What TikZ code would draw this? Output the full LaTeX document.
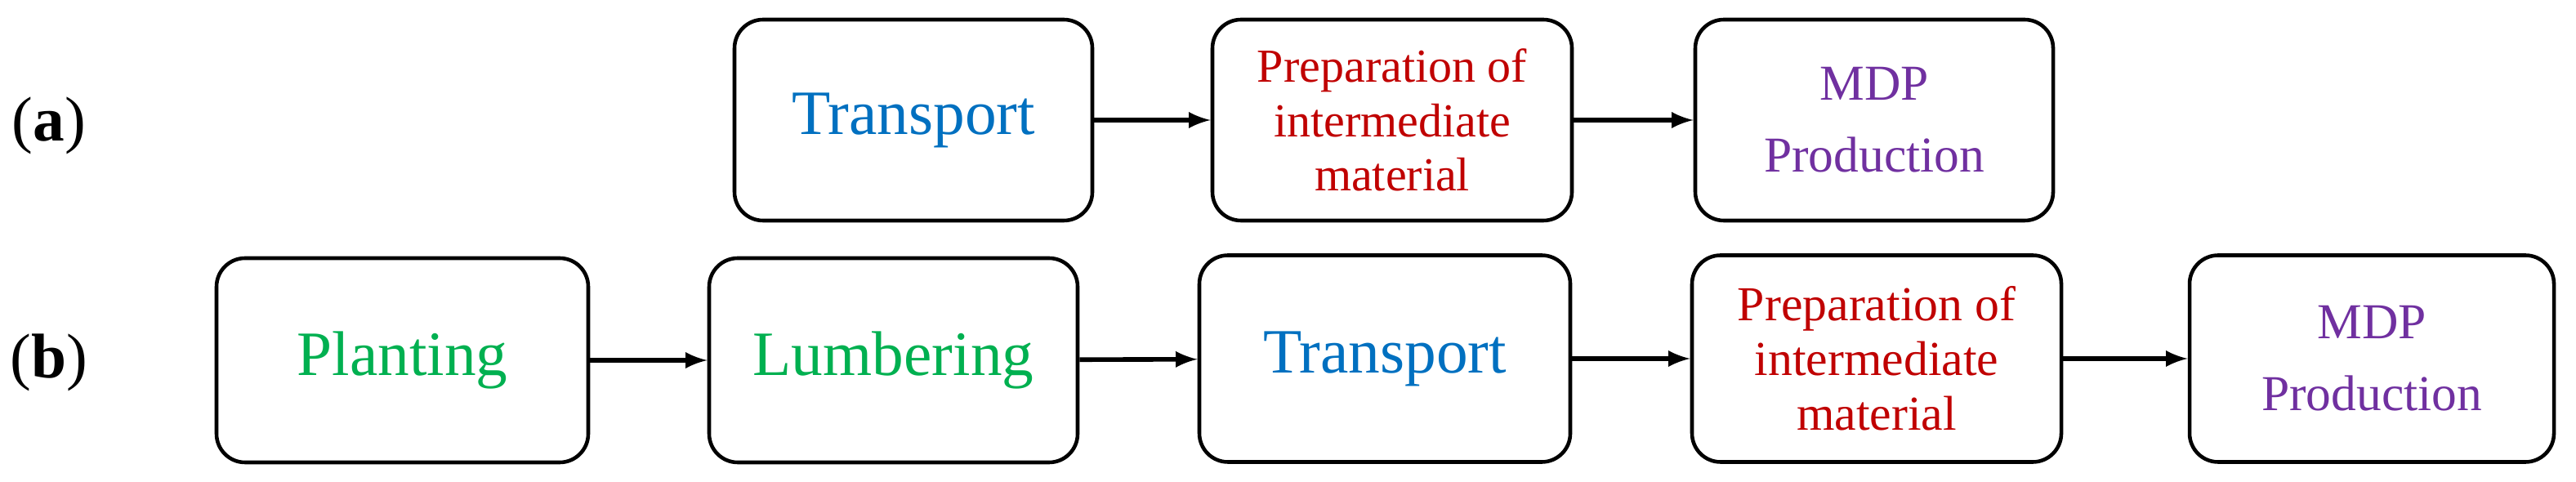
\documentclass[tikz,border=0pt]{standalone}
\usepackage{fontspec}
\setmainfont{Liberation Serif}
\usetikzlibrary{arrows,positioning}
\definecolor{tblue}{RGB}{0,112,192}
\definecolor{tred}{RGB}{192,0,0}
\definecolor{tgreen}{RGB}{0,176,80}
\definecolor{tpurple}{RGB}{112,48,160}
\begin{document}
\begin{tikzpicture}
\tikzstyle{stage}=[draw=black,line width=1.3pt,rounded corners=0.35cm,align=center,inner sep=0pt]
\tikzstyle{arrow}=[line width=1.6pt,->,>=latex]
\useasboundingbox (0,0) rectangle (31.53,5.89);
% row (a)
\node at (0.6,4.35) (la) {\fontsize{22}{26}\selectfont(\textbf{a})};
\node [stage,minimum width=4.38cm,minimum height=2.46cm,text=tblue,font=\fontsize{22}{26}\selectfont] at (11.18,4.42) (a1) {Transport};
\node [stage,minimum width=4.40cm,minimum height=2.46cm,text=tred,font=\fontsize{16.5}{19}\selectfont] at (17.04,4.42) (a2) {Preparation of\\intermediate\\material};
\node [stage,minimum width=4.38cm,minimum height=2.46cm,text=tpurple,font=\fontsize{17.5}{25}\selectfont] at (22.94,4.42) (a3) {MDP\\Production};
\draw [arrow] (a1) -- (a2);
\draw [arrow] (a2) -- (a3);
% row (b)
\node at (0.6,1.45) (lb) {\fontsize{22}{26}\selectfont(\textbf{b})};
\node [stage,minimum width=4.55cm,minimum height=2.50cm,text=tgreen,font=\fontsize{22}{26}\selectfont] at (4.925,1.48) (b1) {Planting};
\node [stage,minimum width=4.51cm,minimum height=2.50cm,text=tgreen,font=\fontsize{22}{26}\selectfont] at (10.935,1.48) (b2) {Lumbering};
\node [stage,minimum width=4.54cm,minimum height=2.53cm,text=tblue,font=\fontsize{22}{26}\selectfont] at (16.95,1.50) (b3) {Transport};
\node [stage,minimum width=4.52cm,minimum height=2.53cm,text=tred,font=\fontsize{17}{19}\selectfont] at (22.97,1.50) (b4) {Preparation of\\intermediate\\material};
\node [stage,minimum width=4.46cm,minimum height=2.53cm,text=tpurple,font=\fontsize{17.5}{25}\selectfont] at (29.03,1.50) (b5) {MDP\\Production};
\draw [arrow] (b1) -- (b2);
\draw [arrow] (b2) -- (b3);
\draw [arrow] (b3) -- (b4);
\draw [arrow] (b4) -- (b5);
\end{tikzpicture}
\end{document}
